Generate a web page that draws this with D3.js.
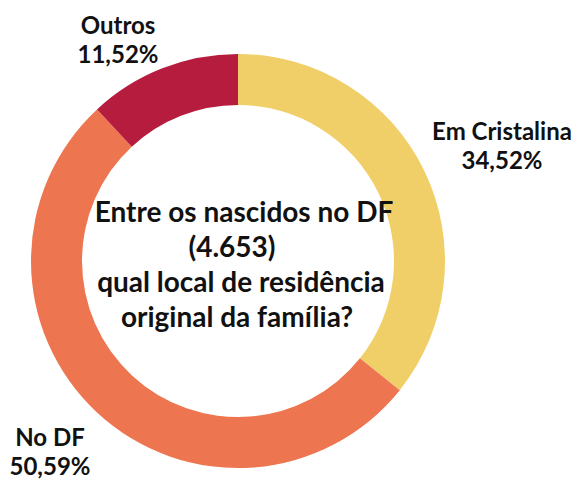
<!DOCTYPE html>
<html>
<head>
<meta charset="utf-8">
<script src="https://cdn.jsdelivr.net/npm/d3@7"></script>
<style>
  html, body { margin: 0; padding: 0; background: #fff; }
  svg text { font-family: Lato, "Open Sans", sans-serif; font-weight: 700; fill: #111; }
</style>
</head>
<body>
<svg id="chart" width="577" height="479"></svg>
<script>
const categories = ['Em Cristalina', 'No DF', 'Outros'];
const shares = [34.52, 50.59, 11.52];
const shareLabels = ['34,52%', '50,59%', '11,52%'];
const colors = ['#F1CF68', '#ED7550', '#B51C3E'];
const centerLines = ['Entre os nascidos no DF', '(4.653)', 'qual local de residência', 'original da família?'];

const width = 577, height = 479;
const cx = 238, cy = 261;
const outerR = 207, innerR = 156;

// where each category label sits (centre of the text, first baseline)
const labelAnchors = [[502, 140], [50, 446], [118, 34]];
const labelLineGap = 29;

const svg = d3.select('#chart');
const g = svg.append('g').attr('transform', `translate(${cx},${cy})`);

const pie = d3.pie().sort(null).value((d) => d);
const arc = d3.arc().innerRadius(innerR).outerRadius(outerR);

const arcs = pie(shares);

g.selectAll('path.slice')
  .data(arcs)
  .enter()
  .append('path')
  .attr('class', 'slice')
  .attr('d', arc)
  .attr('fill', (d, i) => colors[i]);

// category labels
const labels = svg.selectAll('g.label')
  .data(categories)
  .enter()
  .append('g')
  .attr('class', 'label')
  .attr('transform', (d, i) => `translate(${labelAnchors[i][0]},${labelAnchors[i][1]})`);

labels.append('text')
  .attr('text-anchor', 'middle')
  .attr('font-size', 24)
  .text((d) => d);

labels.append('text')
  .attr('text-anchor', 'middle')
  .attr('y', labelLineGap)
  .attr('font-size', 24)
  .text((d, i) => shareLabels[i]);

// centre question
const centerX = [244, 232, 241, 237];
const centerBase = 222;
const centerGap = 35;
svg.append('g')
  .selectAll('text')
  .data(centerLines)
  .enter()
  .append('text')
  .attr('text-anchor', 'middle')
  .attr('x', (d, i) => centerX[i])
  .attr('y', (d, i) => centerBase + i * centerGap)
  .attr('font-size', 28)
  .text((d) => d);
</script>
</body>
</html>
